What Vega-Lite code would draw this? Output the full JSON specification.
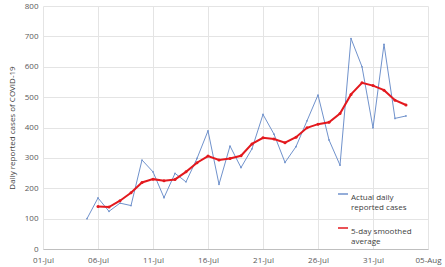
{
  "$schema": "https://vega.github.io/schema/vega-lite/v6.json",
  "width": 385,
  "height": 243,
  "autosize": {"type": "none"},
  "padding": {"left": 43, "top": 6, "right": 17, "bottom": 18},
  "background": "white",
  "config": {
    "view": {"stroke": null},
    "font": "Open Sans",
    "axis": {"labelFont": "Open Sans", "titleFont": "Open Sans"}
  },
  "datasets": {
    "cases": [
      {"date": "2020-07-05", "actual": 100, "smooth": null},
      {"date": "2020-07-06", "actual": 168, "smooth": 140},
      {"date": "2020-07-07", "actual": 124, "smooth": 138},
      {"date": "2020-07-08", "actual": 151, "smooth": 159},
      {"date": "2020-07-09", "actual": 143, "smooth": 185},
      {"date": "2020-07-10", "actual": 293, "smooth": 219},
      {"date": "2020-07-11", "actual": 254, "smooth": 230},
      {"date": "2020-07-12", "actual": 169, "smooth": 225},
      {"date": "2020-07-13", "actual": 249, "smooth": 229},
      {"date": "2020-07-14", "actual": 221, "smooth": 254},
      {"date": "2020-07-15", "actual": 298, "smooth": 284},
      {"date": "2020-07-16", "actual": 389, "smooth": 306},
      {"date": "2020-07-17", "actual": 213, "smooth": 293},
      {"date": "2020-07-18", "actual": 339, "smooth": 298},
      {"date": "2020-07-19", "actual": 268, "smooth": 307},
      {"date": "2020-07-20", "actual": 330, "smooth": 346},
      {"date": "2020-07-21", "actual": 443, "smooth": 366},
      {"date": "2020-07-22", "actual": 378, "smooth": 362},
      {"date": "2020-07-23", "actual": 285, "smooth": 350},
      {"date": "2020-07-24", "actual": 337, "smooth": 368},
      {"date": "2020-07-25", "actual": 422, "smooth": 399},
      {"date": "2020-07-26", "actual": 507, "smooth": 411},
      {"date": "2020-07-27", "actual": 359, "smooth": 417},
      {"date": "2020-07-28", "actual": 276, "smooth": 446},
      {"date": "2020-07-29", "actual": 693, "smooth": 509},
      {"date": "2020-07-30", "actual": 600, "smooth": 547},
      {"date": "2020-07-31", "actual": 399, "smooth": 538},
      {"date": "2020-08-01", "actual": 674, "smooth": 523},
      {"date": "2020-08-02", "actual": 430, "smooth": 490},
      {"date": "2020-08-03", "actual": 438, "smooth": 474}
    ]
  },
  "data": {"name": "cases"},
  "transform": [
    {"fold": ["actual", "smooth"], "as": ["series", "value"]},
    {"filter": "datum.value != null"},
    {"calculate": "datum.series == 'actual' ? 'Actual daily reported cases' : '5-day smoothed average'", "as": "label"}
  ],
  "encoding": {
    "x": {
      "field": "date",
      "type": "temporal",
      "scale": {
        "type": "utc",
        "domain": [
          {"year": 2020, "month": 7, "date": 1, "utc": true},
          {"year": 2020, "month": 8, "date": 5, "utc": true}
        ]
      },
      "axis": {
        "title": null,
        "labelExpr": "utcFormat(datum.value, '%d-%b')",
        "values": [
          {"year": 2020, "month": 7, "date": 1, "utc": true},
          {"year": 2020, "month": 7, "date": 6, "utc": true},
          {"year": 2020, "month": 7, "date": 11, "utc": true},
          {"year": 2020, "month": 7, "date": 16, "utc": true},
          {"year": 2020, "month": 7, "date": 21, "utc": true},
          {"year": 2020, "month": 7, "date": 26, "utc": true},
          {"year": 2020, "month": 7, "date": 31, "utc": true},
          {"year": 2020, "month": 8, "date": 5, "utc": true}
        ],
        "grid": true,
        "gridColor": "#e4e4e4",
        "gridWidth": 1,
        "domainColor": "#bfbfbf",
        "ticks": false,
        "labelFontSize": 8,
        "labelColor": "#595959",
        "labelPadding": 7,
        "labelFlush": false
      }
    },
    "y": {
      "field": "value",
      "type": "quantitative",
      "scale": {"domain": [0, 800], "nice": false},
      "axis": {
        "title": "Daily reported cases of COVID-19",
        "titleFontSize": 8,
        "titleFontWeight": "normal",
        "titleColor": "#404040",
        "titlePadding": 8,
        "values": [0, 100, 200, 300, 400, 500, 600, 700, 800],
        "grid": true,
        "gridColor": "#e4e4e4",
        "domain": false,
        "ticks": false,
        "labelFontSize": 8,
        "labelColor": "#595959",
        "labelPadding": 5
      }
    },
    "color": {
      "field": "label",
      "type": "nominal",
      "scale": {
        "domain": ["Actual daily reported cases", "5-day smoothed average"],
        "range": ["#7092cc", "#e3191e"]
      },
      "legend": {
        "title": null,
        "orient": "none",
        "legendX": 294,
        "legendY": 182,
        "symbolType": "stroke",
        "symbolSize": 100,
        "symbolStrokeWidth": 1.5,
        "labelFontSize": 8,
        "labelColor": "#404040",
        "labelOffset": 2,
        "rowPadding": 10,
        "labelExpr": "datum.label == 'Actual daily reported cases' ? ['Actual daily', 'reported cases'] : ['5-day smoothed', 'average']",
        "labelBaseline": "top",
        "symbolOffset": 0
      }
    },
    "strokeWidth": {
      "field": "series",
      "type": "nominal",
      "scale": {"domain": ["actual", "smooth"], "range": [1, 2]},
      "legend": null
    }
  },
  "layer": [
    {"mark": {"type": "line"}},
    {
      "mark": {"type": "point", "filled": true, "shape": "circle", "opacity": 1},
      "encoding": {
        "size": {
          "field": "series",
          "type": "nominal",
          "scale": {"domain": ["actual", "smooth"], "range": [3, 9]},
          "legend": null
        },
        "strokeWidth": {"value": 0}
      }
    }
  ]
}
